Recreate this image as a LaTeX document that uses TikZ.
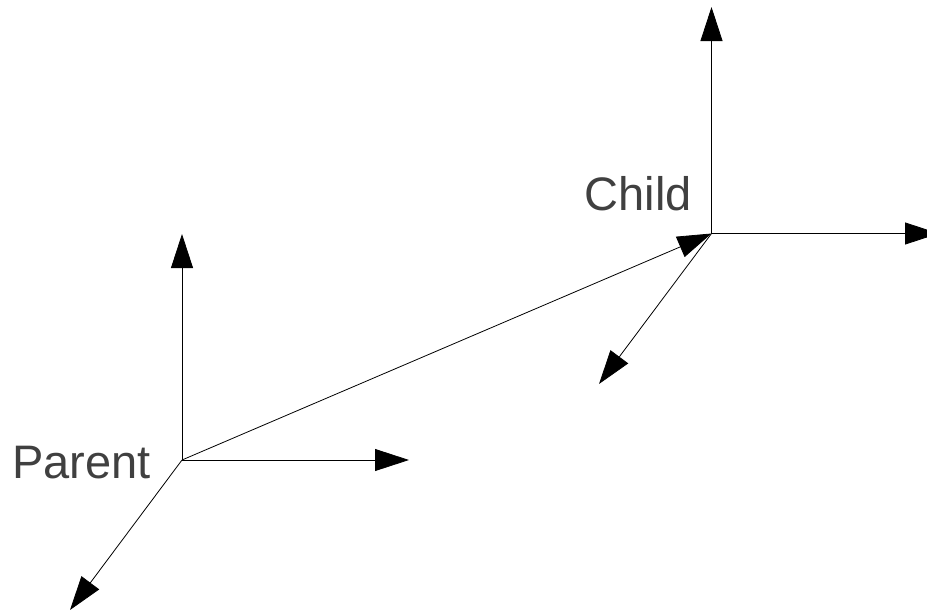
\documentclass[tikz,border=0pt]{standalone}
\usepackage{fontspec}
\setmainfont{Liberation Sans}
\usetikzlibrary{arrows.meta}
\definecolor{labelgray}{HTML}{404040}
\begin{document}
\begin{tikzpicture}[x=1pt,y=-1pt,
  axis/.style={line width=0.8pt, -{Triangle[length=34pt,width=22pt]}},
  lbl/.style={inner sep=0pt, anchor=base west, text=labelgray, font=\fontsize{47pt}{50pt}\selectfont}]
\path[use as bounding box] (0,0) rectangle (927,611);
\clip (0,0) rectangle (927,611);
% parent frame
\coordinate (P) at (182,460);
\coordinate (Pup) at (182,234);
\coordinate (Pright) at (409,460);
\coordinate (Pdown) at (70,610);
% child frame
\coordinate (C) at (711.5,233.5);
\coordinate (Cup) at (711.5,7);
\coordinate (Cright) at (939,233.5);
\coordinate (Cdown) at (599,384);
\draw[axis] (P) -- (Pup);
\draw[axis] (P) -- (Pright);
\draw[axis] (P) -- (Pdown);
\draw[axis] (C) -- (Cup);
\draw[axis] (C) -- (Cright);
\draw[axis] (C) -- (Cdown);
\draw[axis] (P) -- (C);
\node[lbl] (plabel) at (12,478) {Parent};
\node[lbl] (clabel) at (584.5,210) {Child};
\end{tikzpicture}
\end{document}
